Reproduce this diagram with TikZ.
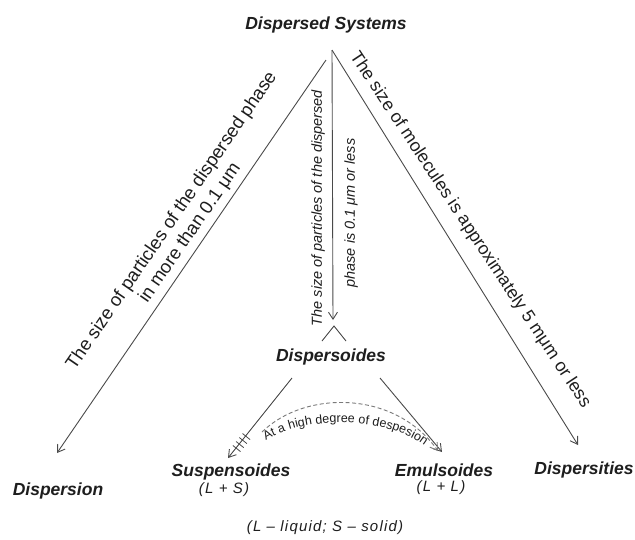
\documentclass[tikz,border=0pt]{standalone}
\usepackage{fontspec}
\setmainfont{Liberation Sans}
\usetikzlibrary{arrows.meta,decorations.text}
\definecolor{ink}{HTML}{1E1E1E}
\definecolor{wirec}{HTML}{4A4A4A}
\definecolor{dashc}{HTML}{7A7A7A}
\begin{document}
\begin{tikzpicture}[x=1pt,y=-1pt,
  lbl/.style={text=ink, inner sep=0pt},
  head/.style={lbl, font=\fontsize{17.5}{20}\selectfont\bfseries\itshape},
  sub/.style={lbl, font=\fontsize{15}{17}\selectfont\itshape\addfontfeatures{LetterSpace=8}},
  diag/.style={lbl, font=\fontsize{18.5}{22}\selectfont},
  vlab/.style={lbl, font=\fontsize{14.5}{16}\selectfont\itshape},
  wire/.style={draw=wirec, line width=0.9pt, -{Straight Barb[length=7pt,width=9pt]}},
  plain/.style={draw=wirec, line width=0.9pt},
  dwire/.style={draw=dashc, line width=0.9pt, dash pattern=on 4pt off 2.5pt, -{Straight Barb[length=7pt,width=9pt]}},
]
\useasboundingbox (0,0) rectangle (635,539);
\fill[white] (0,0) rectangle (635,539);

% nodes
\node[head] (sys) at (326,25) {Dispersed Systems};
\node[head] (dn) at (58,491) {Dispersion};
\node[head] (dd) at (331,357) {Dispersoides};
\node[head] (dt) at (584,470) {Dispersities};
\node[head] (su) at (231,472) {Suspensoides};
\node[head] (em) at (444,470) {Emulsoides};
\node[sub] (ls) at (224,490) {(L + S)};
\node[sub] (ll) at (441,488) {(L + L)};
\node[sub] (key) at (325,528) {(L – liquid; S – solid)};

% connector ends
\coordinate (apex) at (332,50);
\coordinate (lstart) at (326,60);
\coordinate (ltip) at (57,453);
\coordinate (rtip) at (578,445);
\coordinate (vtip) at (333,320);
\coordinate (sa) at (292,378);
\coordinate (stip) at (228,458);
\coordinate (ea) at (380,378);
\coordinate (etip) at (442,452);
\coordinate (cs) at (262,432);
\coordinate (ce) at (438,451);

% main connectors
\draw[wire] (lstart) -- (ltip);
\draw[wire] (apex) -- (rtip);
\draw[wire] (apex) -- (vtip);
\draw[plain] (322,341) -- (334,326) -- (346,341);
\draw[wire] (sa) -- (stip);
\draw[wire] (ea) -- (etip);

% dashed curve
\draw[dwire] (cs) .. controls (305,390) and (395,390) .. (ce);
\foreach \yy in {436,440,444,448}{
  \draw[draw=wirec, line width=0.8pt]
    ({292-64*(\yy-378)/80-3.1},{\yy-2.5}) -- ({292-64*(\yy-378)/80+4.5},{\yy+3.6});
}
\path[decorate, decoration={text along path, text align=center, text color=ink,
  text={|\fontsize{12.5}{13}\selectfont|At a high degree of despesion}}]
  (262,443) .. controls (300,415) and (390,415) .. (428,449);

% edge labels
\node[diag, rotate=55.5, align=center] (ltxt) at (181,227)
  {The size of particles of the dispersed phase\\in more than 0.1 μm};
\node[diag, font=\fontsize{17.8}{20}\selectfont, rotate=-56.5] (rtxt) at (470,230)
  {The size of molecules is approximately 5 mμm or less};
\node[vlab, rotate=90] (v1) at (318,208) {The size of particles of the dispersed};
\node[vlab, rotate=90] (v2) at (351,213) {phase is 0.1 μm or less};
\end{tikzpicture}
\end{document}
